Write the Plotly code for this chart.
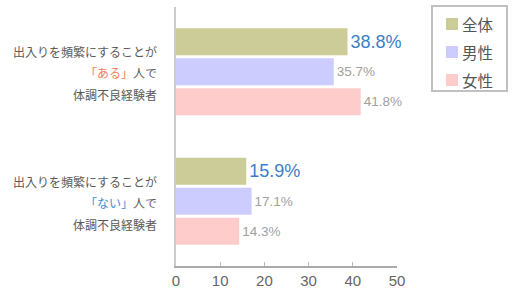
import plotly.graph_objects as go

categories = ["ある", "ない"]
series_names = ["全体", "男性", "女性"]
values = {
    "全体": [38.8, 15.9],
    "男性": [35.7, 17.1],
    "女性": [41.8, 14.3],
}
colors = {"全体": "#cccc99", "男性": "#ccccff", "女性": "#ffcccc"}
cat_colors = {"ある": "#f0805a", "ない": "#3a8fd6"}
x_ticks = [0, 10, 20, 30, 40, 50]

num_font = "Liberation Sans, Noto Sans CJK JP, sans-serif"
jp_font = "Noto Sans CJK JP, sans-serif"

W, H = 529, 302
ML, MR, MT, MB = 176, 132, 7, 36
PW, PH = W - ML - MR, H - MT - MB


def px_x(p):
    return (p - ML) / PW


def px_y(p):
    return (H - MB - p) / PH


fig = go.Figure()
for s in series_names:
    highlight = s == "全体"
    fig.add_trace(go.Bar(
        name=s,
        y=categories,
        x=values[s],
        orientation="h",
        marker=dict(color=colors[s], line=dict(width=0)),
        text=["%.1f%%" % v for v in values[s]],
        textposition="outside",
        textfont=dict(size=18 if highlight else 13.5,
                      color="#3a7fc8" if highlight else "#a0a0a0",
                      family=num_font),
        cliponaxis=False,
        showlegend=False,
    ))

# multi-line category labels as annotations
for c in categories:
    lines = [
        ("出入りを頻繁にすることが", -20),
        ("<span style='color:%s'>「%s」</span>人で" % (cat_colors[c], c), 1),
        ("体調不良経験者", 23),
    ]
    for txt, dy in lines:
        fig.add_annotation(
            x=0, xref="paper", y=c, yref="y",
            text=txt, showarrow=False,
            xanchor="right", yanchor="middle",
            xshift=-17, yshift=-dy,
            font=dict(size=12, color="#5a5a5a", family=jp_font),
        )

# custom legend box
fig.add_shape(type="rect", xref="paper", yref="paper",
              x0=px_x(432), x1=px_x(507), y0=px_y(91), y1=px_y(6),
              line=dict(color="#c0c0c0", width=2), fillcolor="white")
for i, s in enumerate(series_names):
    cy = 24 + i * 28
    fig.add_shape(type="rect", xref="paper", yref="paper",
                  x0=px_x(446), x1=px_x(458), y0=px_y(cy + 6), y1=px_y(cy - 6),
                  line=dict(width=0), fillcolor=colors[s])
    fig.add_annotation(x=px_x(460), y=px_y(cy), xref="paper", yref="paper",
                       text=s, showarrow=False, xanchor="left", yanchor="middle",
                       font=dict(size=15.5, color="#555555", family=jp_font))

fig.update_layout(
    width=W, height=H,
    margin=dict(l=ML, r=MR, t=MT, b=MB),
    barmode="group",
    bargap=0.305,
    bargroupgap=0.1,
    plot_bgcolor="white",
    paper_bgcolor="white",
    font=dict(family=num_font, color="#555555"),
    showlegend=False,
    xaxis=dict(
        range=[0, 50], tickvals=x_ticks, showgrid=False, zeroline=False,
        showline=True, linecolor="#aaaaaa", linewidth=2,
        ticks="inside", ticklen=4, tickcolor="#bbbbbb",
        tickfont=dict(size=15, color="#666666"),
    ),
    yaxis=dict(
        autorange="reversed",
        tickvals=categories, showticklabels=False,
        showline=True, linecolor="#cccccc", linewidth=2,
        ticks="", showgrid=False, zeroline=False,
    ),
)

fig.write_html("out.html")
